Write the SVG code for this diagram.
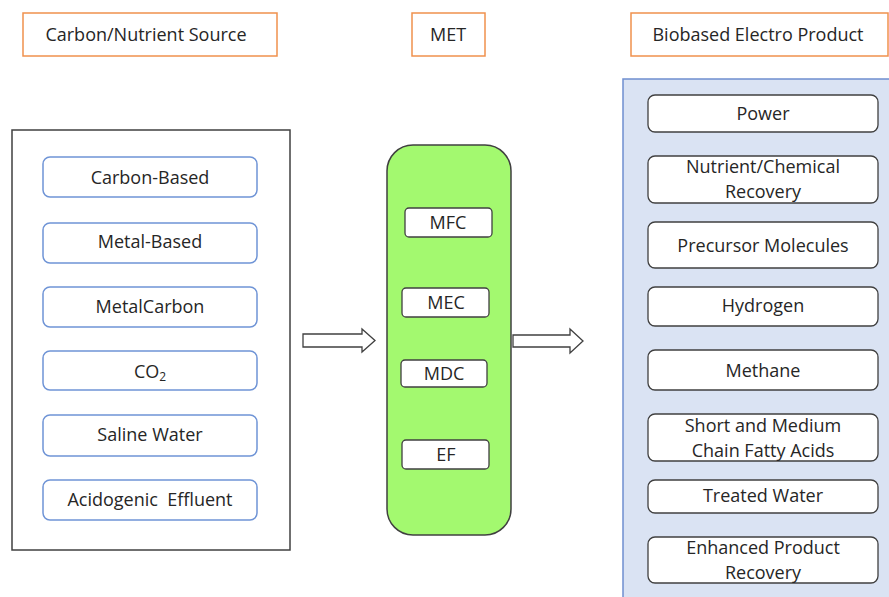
<svg xmlns="http://www.w3.org/2000/svg" width="889" height="597" viewBox="0 0 889 597">
<style>
text{font-family:"Open Sans","Liberation Sans",sans-serif;font-size:18px;fill:#262626;text-anchor:middle}
.title{fill:#fff;stroke:#f0914d;stroke-width:1.5}
.src{fill:#fff;stroke:#6f94d6;stroke-width:1.5}
.met{fill:#fff;stroke:#404040;stroke-width:1.3}
.prod{fill:#fff;stroke:#404040;stroke-width:1.3}
.arrow{fill:#fff;stroke:#404040;stroke-width:1.3}
</style>
<g id="title-source"><rect class="title" x="23" y="13" width="254" height="43"/><text x="146" y="41">Carbon/Nutrient Source</text></g>
<g id="title-met"><rect class="title" x="412" y="13" width="73" height="43"/><text x="448" y="41">MET</text></g>
<g id="title-product"><rect class="title" x="631" y="13" width="257" height="43"/><text x="758" y="41">Biobased Electro Product</text></g>

<g id="source-panel">
<rect x="12" y="130" width="278" height="420" fill="#fff" stroke="#404040" stroke-width="1.5"/>
<g id="src-carbon"><rect class="src" x="43" y="157" width="214" height="40" rx="7"/><text x="150" y="184">Carbon-Based</text></g>
<g id="src-metal"><rect class="src" x="43" y="223" width="214" height="40" rx="7"/><text x="150" y="248">Metal-Based</text></g>
<g id="src-metalcarbon"><rect class="src" x="43" y="287" width="214" height="40" rx="7"/><text x="150" y="313">MetalCarbon</text></g>
<g id="src-co2"><rect class="src" x="43" y="351" width="214" height="39" rx="7"/><text x="150" y="378">CO<tspan font-size="12" dy="3">2</tspan></text></g>
<g id="src-saline"><rect class="src" x="43" y="415" width="214" height="41" rx="7"/><text x="150" y="441">Saline Water</text></g>
<g id="src-acid"><rect class="src" x="43" y="480" width="214" height="40" rx="7"/><text x="150" y="506" xml:space="preserve">Acidogenic  Effluent</text></g>
</g>

<g id="met-panel">
<rect x="387" y="145" width="124" height="390" rx="26" fill="#a3f96f" stroke="#404040" stroke-width="1.5"/>
<g id="met-mfc"><rect class="met" x="405" y="208" width="87" height="29" rx="4"/><text x="448" y="229">MFC</text></g>
<g id="met-mec"><rect class="met" x="402" y="288" width="87" height="29" rx="4"/><text x="446" y="309">MEC</text></g>
<g id="met-mdc"><rect class="met" x="401" y="360" width="86" height="27" rx="4"/><text x="444" y="380">MDC</text></g>
<g id="met-ef"><rect class="met" x="402" y="440" width="87" height="29" rx="4"/><text x="446" y="461">EF</text></g>
</g>

<g id="product-panel">
<rect x="623" y="79" width="270" height="522" fill="#dae3f3" stroke="#6f8fd0" stroke-width="1.5"/>
<g id="p-power"><rect class="prod" x="648" y="95" width="230" height="37" rx="7"/><text x="763" y="120">Power</text></g>
<g id="p-nutrient"><rect class="prod" x="648" y="156" width="230" height="47" rx="7"/><text x="763" y="173">Nutrient/Chemical</text><text x="763" y="198">Recovery</text></g>
<g id="p-precursor"><rect class="prod" x="648" y="222" width="230" height="46" rx="7"/><text x="763" y="252">Precursor Molecules</text></g>
<g id="p-hydrogen"><rect class="prod" x="648" y="287" width="230" height="39" rx="7"/><text x="763" y="312">Hydrogen</text></g>
<g id="p-methane"><rect class="prod" x="648" y="350" width="230" height="40" rx="7"/><text x="763" y="377">Methane</text></g>
<g id="p-fatty"><rect class="prod" x="648" y="414" width="230" height="47" rx="7"/><text x="763" y="432">Short and Medium</text><text x="763" y="457">Chain Fatty Acids</text></g>
<g id="p-water"><rect class="prod" x="648" y="480" width="230" height="33" rx="7"/><text x="763" y="502">Treated Water</text></g>
<g id="p-enhanced"><rect class="prod" x="648" y="537" width="230" height="46" rx="7"/><text x="763" y="554">Enhanced Product</text><text x="763" y="579">Recovery</text></g>
</g>

<g id="connectors">
<polygon class="arrow" points="303,334 362,334 362,329 375,340.5 362,352 362,347 303,347"/>
<polygon class="arrow" points="513,335 570,335 570,329 583,341 570,353 570,347 513,347"/>
</g>
</svg>
